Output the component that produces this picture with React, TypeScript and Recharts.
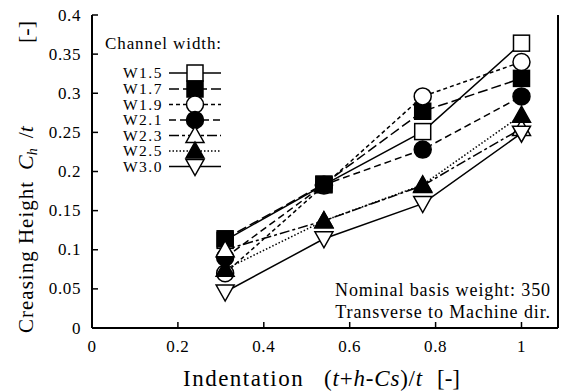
import React from 'react';
import { LineChart, Line, XAxis, YAxis } from 'recharts';

// indentation (t+h-Cs)/t at which each channel width was measured
const indentation = [0.31, 0.54, 0.77, 1.0];

const seriesNames = ['W1.5', 'W1.7', 'W1.9', 'W2.1', 'W2.3', 'W2.5', 'W3.0'];

// creasing height Ch/t
const w15 = [0.112, 0.183, 0.251, 0.364];
const w17 = [0.114, 0.184, 0.277, 0.319];
const w19 = [0.07, 0.182, 0.296, 0.34];
const w21 = [0.09, 0.183, 0.228, 0.296];
const w23 = [0.1, 0.137, 0.182, 0.255];
const w25 = [0.075, 0.137, 0.183, 0.272];
const w30 = [0.046, 0.114, 0.159, 0.249];

const xTicks = [0, 0.2, 0.4, 0.6, 0.8, 1];
const yTicks = [0, 0.05, 0.1, 0.15, 0.2, 0.25, 0.3, 0.35, 0.4];

const seriesValues = [w15, w17, w19, w21, w23, w25, w30];

type Kind = 'square' | 'circle' | 'up' | 'down';

const seriesStyle: { kind: Kind; filled: boolean; dash?: string }[] = [
  { kind: 'square', filled: false },
  { kind: 'square', filled: true, dash: '10 4' },
  { kind: 'circle', filled: false, dash: '4 3' },
  { kind: 'circle', filled: true, dash: '7 4' },
  { kind: 'up', filled: false, dash: '10 3 3 3' },
  { kind: 'up', filled: true, dash: '1.5 2' },
  { kind: 'down', filled: false },
];

const data = indentation.map((x, i) => {
  const row: Record<string, number> = { x };
  seriesValues.forEach((vals, s) => {
    row['s' + s] = vals[i];
  });
  return row;
});

const FONT = '"Liberation Serif", "Times New Roman", serif';

function Marker({ cx, cy, kind, filled }: { cx: number; cy: number; kind: Kind; filled: boolean }) {
  const fill = filled ? '#000' : '#fff';
  const common = { fill, stroke: '#000', strokeWidth: 1.5 };
  if (kind === 'square') return <rect x={cx - 8} y={cy - 8} width={16} height={16} {...common} />;
  if (kind === 'circle') return <circle cx={cx} cy={cy} r={8.5} {...common} />;
  if (kind === 'up')
    return <polygon points={`${cx},${cy - 9} ${cx + 9},${cy + 7} ${cx - 9},${cy + 7}`} {...common} />;
  return <polygon points={`${cx - 9},${cy - 7} ${cx + 9},${cy - 7} ${cx},${cy + 9}`} {...common} />;
}

const BottomTick = ({ x, y, payload }: any) => (
  <g>
    <line x1={x} y1={y} x2={x} y2={y - 6} stroke="#000" strokeWidth={1.5} />
    <text x={x} y={y + 24} textAnchor="middle" fontFamily={FONT} fontSize={17} letterSpacing={0.6} fill="#000">
      {String(payload.value)}
    </text>
  </g>
);

const TopTick = ({ x, y }: any) => (
  <line x1={x} y1={y} x2={x} y2={y + 6} stroke="#000" strokeWidth={1.5} />
);

const LeftTick = ({ x, y, payload }: any) => (
  <g>
    <line x1={x} y1={y} x2={x + 6} y2={y} stroke="#000" strokeWidth={1.5} />
    <text x={x - 11} y={y + 5.5} textAnchor="end" fontFamily={FONT} fontSize={17} letterSpacing={0.6} fill="#000">
      {String(payload.value)}
    </text>
  </g>
);

const RightTick = ({ x, y }: any) => (
  <line x1={x} y1={y} x2={x - 6} y2={y} stroke="#000" strokeWidth={1.5} />
);

const legendRows = [73, 89, 104.5, 120, 135.5, 151, 166.5];

export default function App() {
  const axisLine = { stroke: '#000', strokeWidth: 2 };
  return (
    <div style={{ position: 'absolute', left: 0, top: 0, width: 569, height: 391, background: '#fff' }}>
      <LineChart width={569} height={391} data={data} margin={{ top: 15, right: 0, bottom: 0, left: 0 }}>
        <XAxis
          xAxisId="b"
          type="number"
          dataKey="x"
          domain={[0, 1.085]}
          ticks={xTicks}
          height={63}
          tickSize={0}
          tickMargin={0}
          tickLine={false}
          axisLine={axisLine}
          tick={<BottomTick />}
          interval={0}
        />
        <XAxis
          xAxisId="t"
          orientation="top"
          type="number"
          dataKey="x"
          domain={[0, 1.085]}
          ticks={xTicks}
          height={0}
          tickSize={0}
          tickMargin={0}
          tickLine={false}
          axisLine={axisLine}
          tick={<TopTick />}
          interval={0}
        />
        <YAxis
          yAxisId="l"
          type="number"
          domain={[0, 0.4]}
          ticks={yTicks}
          width={92}
          tickSize={0}
          tickMargin={0}
          tickLine={false}
          axisLine={axisLine}
          tick={<LeftTick />}
          interval={0}
        />
        <YAxis
          yAxisId="r"
          orientation="right"
          type="number"
          domain={[0, 0.4]}
          ticks={yTicks}
          width={11}
          tickSize={0}
          tickMargin={0}
          tickLine={false}
          axisLine={axisLine}
          tick={<RightTick />}
          interval={0}
        />
        {seriesNames.map((name, s) => {
          const st = seriesStyle[s];
          return (
            <Line
              key={name}
              xAxisId="b"
              yAxisId="l"
              dataKey={'s' + s}
              name={name}
              type="linear"
              stroke="#000"
              strokeWidth={1.5}
              strokeDasharray={st.dash}
              isAnimationActive={false}
              dot={(p: any) => (
                <Marker key={name + '-' + p.index} cx={p.cx} cy={p.cy} kind={st.kind} filled={st.filled} />
              )}
              activeDot={false}
            />
          );
        })}
      </LineChart>
      <svg
        width={569}
        height={391}
        style={{ position: 'absolute', left: 0, top: 0, pointerEvents: 'none' }}
        fontFamily={FONT}
      >
        {/* legend */}
        <text x={105} y={49} fontSize={17} letterSpacing={0.9}>Channel width:</text>
        {seriesNames.map((name, s) => {
          const st = seriesStyle[s];
          const cy = legendRows[s];
          return (
            <g key={name}>
              <text x={163} y={cy + 5} fontSize={15.5} letterSpacing={1.5} textAnchor="end">{name}</text>
              <line x1={169} y1={cy} x2={221} y2={cy} stroke="#000" strokeWidth={1.5} strokeDasharray={st.dash} />
              <Marker cx={195} cy={cy} kind={st.kind} filled={st.filled} />
            </g>
          );
        })}
        {/* note */}
        <text x={551} y={296} fontSize={18} letterSpacing={0.9} textAnchor="end">Nominal basis weight: 350</text>
        <text x={551} y={318} fontSize={18} letterSpacing={0.9} textAnchor="end">Transverse to Machine dir.</text>
        {/* x title */}
        <text x={183} y={386} fontSize={23} letterSpacing={1.5}>Indentation</text>
        <text x={324} y={386} fontSize={23} letterSpacing={0.8}>
          (<tspan fontStyle="italic">t</tspan>+<tspan fontStyle="italic">h</tspan>-<tspan fontStyle="italic">Cs</tspan>)/<tspan fontStyle="italic">t</tspan>
        </text>
        <text x={437} y={386} fontSize={23}>[-]</text>
        {/* y title */}
        <g transform="translate(33, 333) rotate(-90)">
          <text x={0} y={0} fontSize={21} letterSpacing={1}>Creasing Height</text>
          <text x={163} y={0} fontSize={22}>
            <tspan fontStyle="italic">C</tspan>
            <tspan fontStyle="italic" fontSize={14} dy={4}>h</tspan>
            <tspan dy={-4} dx={10}>/</tspan>
            <tspan fontStyle="italic">t</tspan>
          </text>
          <text x={290} y={0} fontSize={22}>[-]</text>
        </g>
      </svg>
    </div>
  );
}
